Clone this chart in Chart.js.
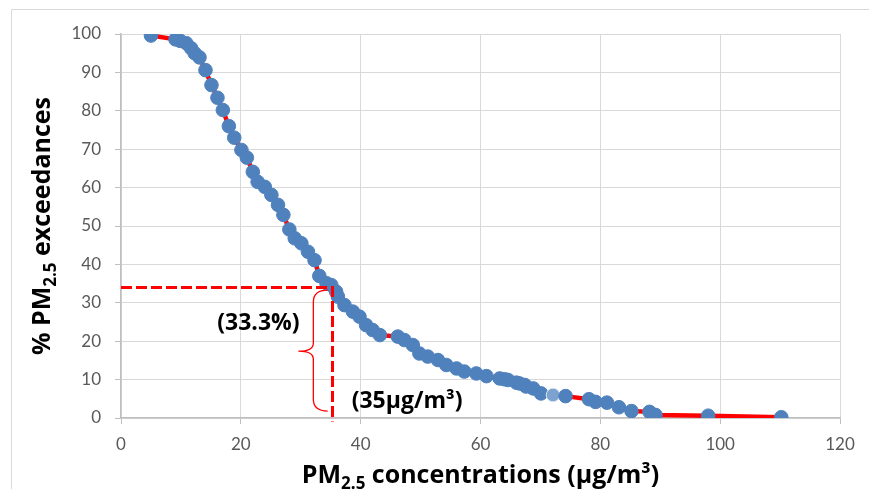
<!DOCTYPE html>
<html>
<head>
<meta charset="utf-8">
<script src="https://cdn.jsdelivr.net/npm/chart.js@4/dist/chart.umd.min.js"></script>
<style>
  html, body { margin: 0; padding: 0; background: #fff; }
  canvas { display: block; }
</style>
</head>
<body>
<canvas id="chart" width="869" height="489"></canvas>
<script>
// --- data ---
const pmValues = [
  5.0, 9.1, 9.9, 10.9, 11.7, 12.3, 13.1, 14.1, 15.1, 16.1, 17.0, 18.0, 18.9, 20.1, 21.0,
  22.0, 22.8, 24.0, 25.1, 26.2, 27.1, 28.1, 29.0, 30.1, 31.2, 32.3, 33.1, 34.3, 35.1, 35.9,
  36.2, 37.3, 38.7, 39.8, 40.9, 42.0, 43.2, 46.2, 47.3, 48.7, 49.8, 51.2, 52.9, 54.3, 56.0,
  57.3, 59.3, 61.0, 63.2, 64.0, 64.6, 66.0, 66.5, 67.4, 67.6, 68.8, 70.1, 72.1, 74.2, 78.1,
  79.2, 81.1, 83.1, 85.2, 88.2, 89.2, 98.0, 110.2
];
const exceedValues = [
  99.6, 98.6, 98.2, 97.6, 96.3, 95.0, 93.9, 90.6, 86.7, 83.4, 80.2, 76.0, 73.0, 69.8, 67.8,
  64.1, 61.5, 60.2, 58.1, 55.5, 52.9, 49.1, 46.8, 45.5, 43.3, 41.1, 37.0, 35.1, 34.6, 32.9,
  31.6, 29.4, 27.7, 26.4, 24.2, 22.9, 21.6, 21.2, 20.3, 19.0, 16.8, 16.0, 15.1, 13.8, 12.9,
  12.1, 11.6, 10.9, 10.3, 10.1, 9.9, 9.2, 9.0, 8.6, 8.2, 7.7, 6.4, 6.0, 5.7, 4.9,
  4.2, 4.0, 2.8, 1.8, 1.6, 0.8, 0.6, 0.2
];
const xTicks = [0, 20, 40, 60, 80, 100, 120];
const yTicks = [0, 10, 20, 30, 40, 50, 60, 70, 80, 90, 100];

// guide at the 35 µg/m3 limit
const guideX = [0, 35.3, 35.3];
const guideY = [34, 34, -0.9];
const highlightIndex = 57;

const BLUE = '#4f81bd';
const RED = '#ff0000';
const FONT = 'Lato, "Open Sans", sans-serif';
const BOLD_FONT = '"Open Sans", sans-serif';

const curve = pmValues.map((x, i) => ({ x, y: exceedValues[i] }));
const guide = guideX.map((x, i) => ({ x, y: guideY[i] }));

// draws text with subscript parts, centred on (0,0) of the current transform
function drawRich(ctx, parts, size) {
  const subSize = Math.round(size * 0.68);
  let total = 0;
  parts.forEach(p => {
    ctx.font = `bold ${p.sub ? subSize : size}px ${BOLD_FONT}`;
    p.w = ctx.measureText(p.t).width;
    total += p.w;
  });
  let x = -total / 2;
  ctx.textBaseline = 'alphabetic';
  ctx.textAlign = 'left';
  parts.forEach(p => {
    ctx.font = `bold ${p.sub ? subSize : size}px ${BOLD_FONT}`;
    ctx.fillText(p.t, x, p.sub ? size * 0.58 : size * 0.36);
    x += p.w;
  });
}

const annotations = {
  id: 'annotations',
  beforeDraw(chart) {
    const ctx = chart.ctx;
    ctx.save();
    ctx.strokeStyle = '#d9d9d9';
    ctx.lineWidth = 1;
    ctx.beginPath();
    ctx.moveTo(11.5, 489);
    ctx.lineTo(11.5, 9.5);
    ctx.lineTo(869, 9.5);
    ctx.stroke();
    ctx.restore();
  },
  afterDraw(chart) {
    const ctx = chart.ctx;
    const xs = chart.scales.x, ys = chart.scales.y;
    const area = chart.chartArea;
    ctx.save();
    ctx.fillStyle = '#000';

    // axis titles
    ctx.save();
    ctx.translate((area.left + area.right) / 2, 474);
    drawRich(ctx, [{ t: 'PM' }, { t: '2.5', sub: true }, { t: ' concentrations (µg/m³)' }], 25);
    ctx.restore();

    ctx.save();
    ctx.translate(41, (area.top + area.bottom) / 2);
    ctx.rotate(-Math.PI / 2);
    drawRich(ctx, [{ t: '% PM' }, { t: '2.5', sub: true }, { t: ' exceedances' }], 25);
    ctx.restore();

    // curly brace
    const bx = xs.getPixelForValue(34.5);
    const bm = xs.getPixelForValue(32.1);
    const bt = xs.getPixelForValue(29.6);
    const top = ys.getPixelForValue(33.3);
    const bot = ys.getPixelForValue(1.8);
    const mid = ys.getPixelForValue(17.4);
    ctx.strokeStyle = RED;
    ctx.lineWidth = 1.3;
    ctx.beginPath();
    ctx.moveTo(bx, top);
    ctx.quadraticCurveTo(bm, top, bm, top + 12);
    ctx.lineTo(bm, mid - 8);
    ctx.quadraticCurveTo(bm, mid, bt, mid);
    ctx.quadraticCurveTo(bm, mid, bm, mid + 8);
    ctx.lineTo(bm, bot - 12);
    ctx.quadraticCurveTo(bm, bot, bx, bot);
    ctx.stroke();

    // labels
    ctx.font = `bold 23px ${BOLD_FONT}`;
    ctx.fillStyle = '#000';
    ctx.textBaseline = 'middle';
    ctx.textAlign = 'right';
    ctx.fillText('(33.3%)', xs.getPixelForValue(29.8), ys.getPixelForValue(24.7));
    ctx.textAlign = 'left';
    ctx.fillText('(35µg/m³)', xs.getPixelForValue(38.5), ys.getPixelForValue(4.2));
    ctx.restore();
  }
};

new Chart(document.getElementById('chart'), {
  type: 'scatter',
  data: {
    datasets: [
      {
        data: guide,
        showLine: true,
        borderColor: RED,
        borderWidth: 3,
        borderDash: [11, 4],
        pointRadius: 0,
        clip: false,
        order: 0
      },
      {
        data: curve,
        showLine: true,
        borderColor: RED,
        borderWidth: 4.5,
        pointRadius: 6.8,
        pointBorderWidth: 1,
        pointBackgroundColor: curve.map((_, i) => i === highlightIndex ? '#7da2d0' : BLUE),
        pointBorderColor: curve.map((_, i) => i === highlightIndex ? '#dbe5f1' : BLUE),
        order: 1
      }
    ]
  },
  options: {
    responsive: false,
    animation: false,
    layout: { padding: { top: 34, right: 29, left: 0, bottom: 0 } },
    plugins: { legend: { display: false }, tooltip: { enabled: false } },
    scales: {
      x: {
        type: 'linear',
        min: 0,
        max: 120,
        afterFit: s => { s.height = 71; },
        afterBuildTicks: s => { s.ticks = xTicks.map(v => ({ value: v })); },
        grid: { color: '#d9d9d9', tickColor: '#bfbfbf', tickLength: 6 },
        border: { color: '#bfbfbf', width: 1.5 },
        ticks: { color: '#595959', font: { family: FONT, size: 17 }, padding: 10, maxRotation: 0 }
      },
      y: {
        type: 'linear',
        min: 0,
        max: 100,
        afterFit: s => { s.width = 121; },
        afterBuildTicks: s => { s.ticks = yTicks.map(v => ({ value: v })); },
        grid: { color: '#d9d9d9', tickColor: '#bfbfbf', tickLength: 6 },
        border: { color: '#bfbfbf', width: 1.5 },
        ticks: { color: '#595959', font: { family: FONT, size: 17 }, padding: 14 }
      }
    }
  },
  plugins: [annotations]
});
</script>
</body>
</html>
